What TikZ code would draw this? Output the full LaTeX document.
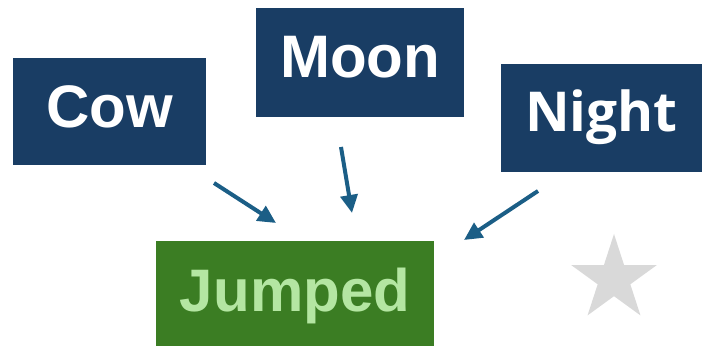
\documentclass[tikz,border=0pt]{standalone}
\usepackage{fontspec}
\setmainfont{Liberation Sans}
\newfontfamily\nightfont{Open Sans}
\usepackage{tikz}
\usetikzlibrary{shapes.geometric,
                arrows.meta, % for arrow tips
                positioning}

\definecolor{wordblue}{HTML}{193D64}
\definecolor{verbgreen}{HTML}{3B7D23}
\definecolor{verbtext}{HTML}{B4E6A2}
\definecolor{linkblue}{HTML}{1B5E86}
\definecolor{stargrey}{HTML}{D9D9D9}

\begin{document}
\begin{tikzpicture}[%
    x=0.5pt, y=-0.5pt,
    Word/.style={fill=wordblue, text=white, inner sep=0pt, text depth=0pt,
                 font=\fontsize{30}{36}\selectfont\bfseries},
    Verb/.style={fill=verbgreen, text=verbtext, inner sep=0pt, text depth=0pt,
                 font=\fontsize{30}{36}\selectfont\bfseries},
    Link/.style={draw=linkblue, line width=2pt,
                 -{Triangle[length=9pt,width=8.5pt]}}
    ]
    \useasboundingbox (0,0) rectangle (702,346);

    %word nodes
    \node[Word, minimum width=96.5pt, minimum height=53.5pt, text height=16.5pt]
        at (109.5,111.5) (Cow){Cow};
    \node[Word, minimum width=104pt, minimum height=54.5pt, text height=15.5pt]
        at (360,62.5) (Moon){Moon};
    \node[Word, minimum width=100.5pt, minimum height=54pt, text height=14pt,
          font=\fontsize{27.5}{33}\nightfont\bfseries]
        at (601.5,118) (Night){Night};

    %verb node
    \node[Verb, minimum width=139pt, minimum height=52.5pt, text height=18.5pt]
        at (295,293.5) (Jumped){Jumped};

    \node[star, star points=5, star point ratio=2.62, minimum size=45pt,
          inner sep=0pt, fill=stargrey] at (614,279) (Mark){};

    %arrow ends
    \coordinate (CowA)   at (214,183);
    \coordinate (CowB)   at (276,223);
    \coordinate (MoonA)  at (341,147);
    \coordinate (MoonB)  at (352,213);
    \coordinate (NightA) at (538,191);
    \coordinate (NightB) at (464,240);

    \foreach \x in {Cow, Moon, Night} \draw[Link] (\x A) -- (\x B);
\end{tikzpicture}
\end{document}
